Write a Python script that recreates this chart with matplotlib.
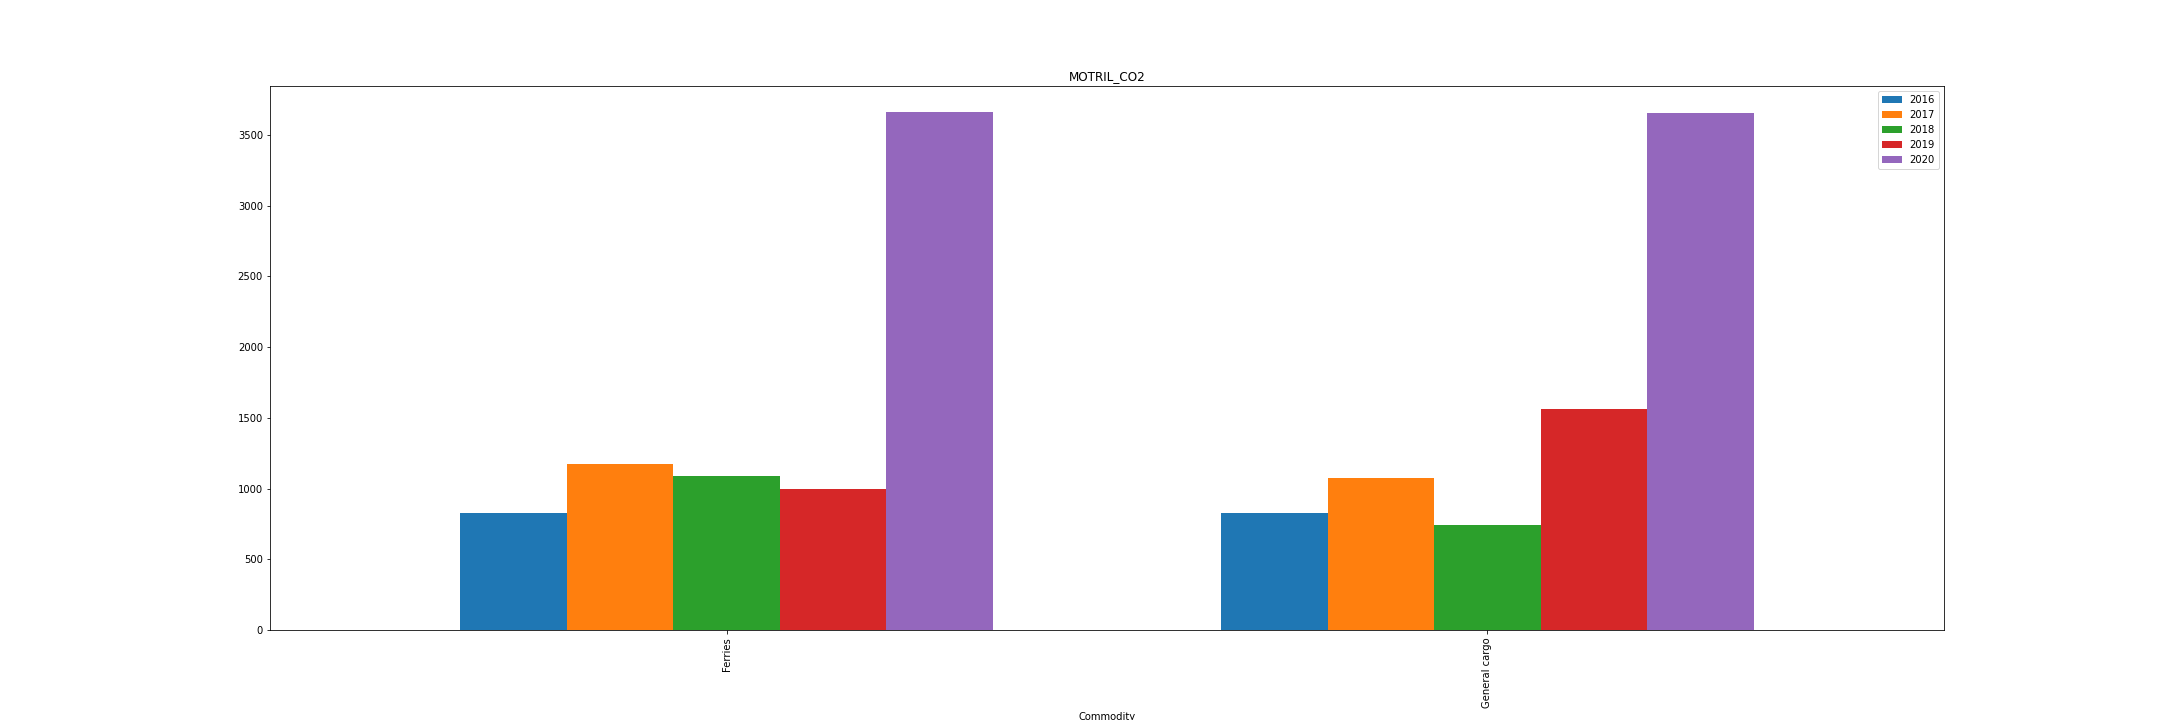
import pandas as pd
import matplotlib
matplotlib.use('Agg')
import matplotlib.pyplot as plt

commodities = ['Ferries', 'General cargo']
years = ['2016', '2017', '2018', '2019', '2020']
co2_2016 = [827, 826]
co2_2017 = [1174, 1075]
co2_2018 = [1090, 743]
co2_2019 = [995, 1563]
co2_2020 = [3660, 3653]

df = pd.DataFrame({'2016': co2_2016, '2017': co2_2017, '2018': co2_2018,
                   '2019': co2_2019, '2020': co2_2020},
                  index=pd.Index(commodities, name='Commodity'))

fig, ax = plt.subplots(figsize=(30, 10), dpi=72)
df.plot.bar(ax=ax, width=0.7)
ax.set_title('MOTRIL_CO2')
fig.subplots_adjust(left=0.125, right=0.9, top=0.88, bottom=0.125)
fig.savefig('out.png', dpi=72)
